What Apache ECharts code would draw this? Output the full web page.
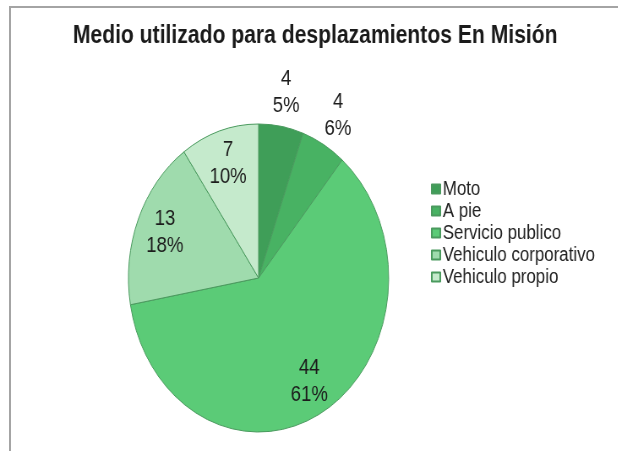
<!DOCTYPE html>
<html>
<head>
<meta charset="utf-8">
<script src="https://cdn.jsdelivr.net/npm/echarts@6/dist/echarts.min.js"></script>
<style>
  html, body { margin: 0; padding: 0; background: #fff; overflow: hidden; }
  #frame { position: absolute; left: 9px; top: 6px; width: 700px; height: 500px;
           border-left: 2px solid #a4a4a4; border-top: 2px solid #a4a4a4; }
  #chart { position: absolute; left: 0; top: 0; width: 731px; height: 451px;
           transform: scaleX(0.845); transform-origin: 0 0; }
</style>
</head>
<body>
<div id="frame"></div>
<div id="chart"></div>
<script>
// Means of transport used for trips on assignment
const categories = ['Moto', 'A pie', 'Servicio publico', 'Vehiculo corporativo', 'Vehiculo propio'];
const counts = [4, 4, 44, 13, 7];
const shares = [5, 6, 61, 18, 10];
const colors = ['#3f9e58', '#48b263', '#5bcb77', '#9fdbad', '#c5eacc'];
// slices whose label sits outside the pie
const outsideLabel = [true, true, false, false, false];

const center = [306, 278];
const pieRadius = 154;

const labelText = (i) => counts[i] + '\n' + shares[i] + '%';
const labelStyle = {
  fontFamily: 'Liberation Sans, Arial, sans-serif',
  fontSize: 22,
  lineHeight: 27,
  color: '#1c1c1c',
  align: 'center'
};

// label carrier: transparent pie, its "inside" labels land at radius/2
function labelSeries(radius, useOutside) {
  return {
    type: 'pie',
    silent: true,
    center: center,
    radius: [0, radius],
    startAngle: 90,
    clockwise: true,
    z: 5,
    itemStyle: { color: 'rgba(0,0,0,0)', borderWidth: 0 },
    labelLine: { show: false },
    emphasis: { disabled: true },
    data: categories.map((name, i) => ({
      name: name,
      value: counts[i],
      label: {
        show: outsideLabel[i] === useOutside,
        position: 'inside',
        formatter: () => labelText(i),
        ...labelStyle
      }
    }))
  };
}

const chart = echarts.init(document.getElementById('chart'), null, { renderer: 'canvas' });
chart.setOption({
  animation: false,
  backgroundColor: 'transparent',
  title: {
    text: 'Medio utilizado para desplazamientos En Misión',
    left: 368,
    top: 19,
    textAlign: 'center',
    textStyle: {
      fontFamily: 'Liberation Sans, Arial, sans-serif',
      fontWeight: 'bold',
      fontSize: 25,
      color: '#1a1a1a'
    }
  },
  legend: {
    orient: 'vertical',
    left: 505,
    top: 174,
    icon: 'rect',
    itemWidth: 10,
    itemHeight: 9,
    itemGap: 2,
    selectedMode: false,
    data: categories.map((name, i) => ({ name: name, itemStyle: { color: colors[i] } })),
    textStyle: {
      fontFamily: 'Liberation Sans, Arial, sans-serif',
      fontSize: 20,
      color: '#222',
      padding: [0, 0, 0, -2]
    }
  },
  series: [
    {
      type: 'pie',
      name: 'Medio',
      center: center,
      radius: [0, pieRadius],
      startAngle: 90,
      clockwise: true,
      label: { show: false },
      labelLine: { show: false },
      emphasis: { disabled: true },
      itemStyle: { borderColor: '#4a9a5e', borderWidth: 1 },
      data: categories.map((name, i) => ({
        name: name,
        value: counts[i],
        itemStyle: { color: colors[i] }
      }))
    },
    labelSeries(234, false),
    labelSeries(370, true)
  ]
});
</script>
</body>
</html>
